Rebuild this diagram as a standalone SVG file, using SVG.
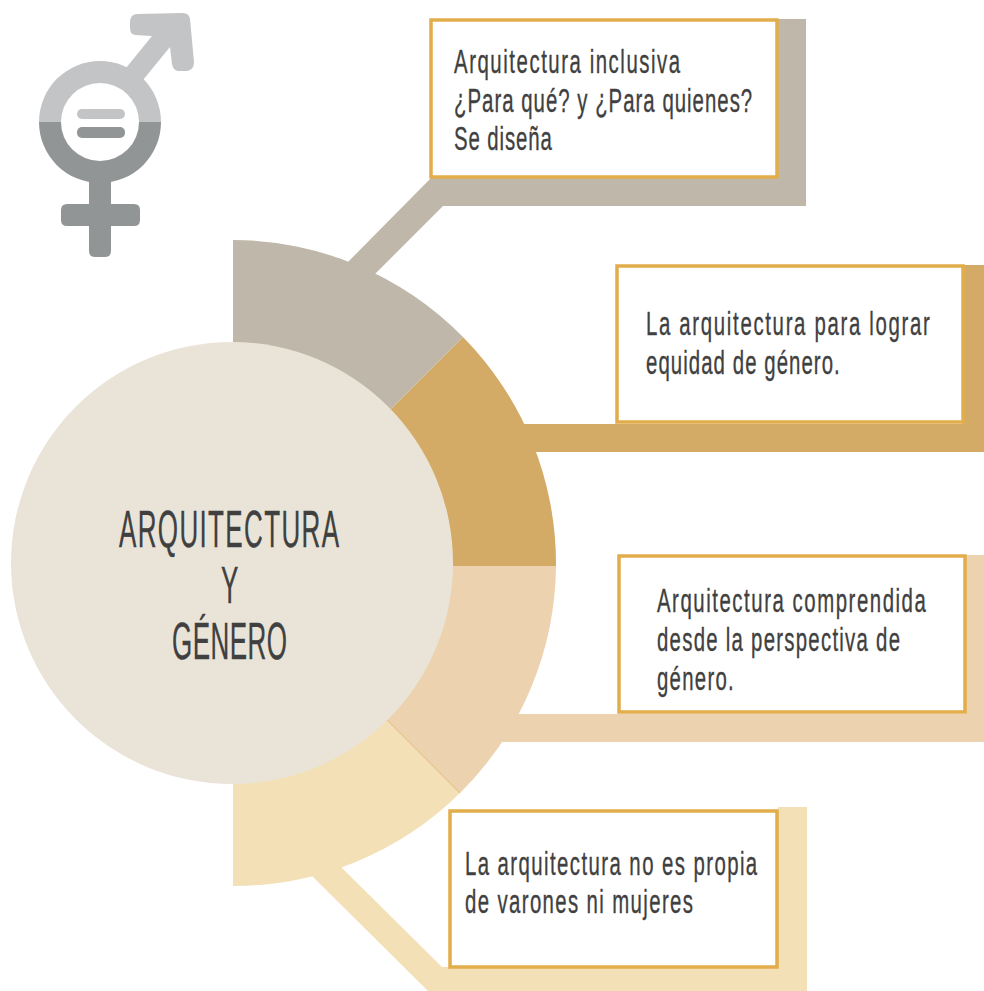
<svg xmlns="http://www.w3.org/2000/svg" width="984" height="991" viewBox="0 0 984 991">
<style>
.box{fill:#fff;stroke:#e2ad4a;stroke-width:3.5}
text{font-family:"Liberation Sans",Arial,sans-serif;fill:#404040;font-size:34px;stroke:#404040;stroke-width:.35}
.big{font-size:52px}
</style>
<rect width="984" height="991" fill="#fff"/>
<g id="icon">
<path d="M126 68 L152 36 L135 35 Q130 34 130 28 L130 21 Q131 14 137 14 L183 13 Q189 13 190 19 L194 62 Q194 70 187 71 L178 71 Q173 70 172 64 L170 47 L143 80Z" fill="#c2c4c6"/>
<path d="M39 122 A61 61 0 0 1 161 122 H139 A39 39 0 0 0 61 122Z" fill="#c2c4c6"/>
<path d="M39 122 A61 61 0 0 0 161 122 H139 A39 39 0 0 1 61 122Z" fill="#929596"/>
<path d="M89 180 H111 V204 H134 Q140 204 140 210 V220 Q140 226 134 226 H111 V251 Q111 257 105 257 H95 Q89 257 89 251 V226 H67 Q61 226 61 220 V210 Q61 204 67 204 H89Z" fill="#929596"/>
<rect x="77" y="109" width="48" height="10" rx="5" fill="#c2c4c6"/>
<rect x="77" y="127" width="48" height="11" rx="5" fill="#929596"/>
</g>
<g id="connectors">
<path d="M347 263 L431 178 V19 H806 V206 H443 L375 274Z" fill="#bfb7a9"/>
<path d="M520 424 H962 V265 H984 V452 H530Z" fill="#d4ab66"/>
<path d="M510 714 H966 V555 H984 V742 H490Z" fill="#edd2af"/>
<path d="M312 876 L340 866 L442 967 H778 V807 H807 V991 H428Z" fill="#f3e0b6"/>
</g>
<g id="ring">
<path d="M233 240 A323 323 0 0 1 463 337 L389 411 L233 400Z" fill="#bfb7a9"/>
<path d="M463 337 A323 323 0 0 1 556 566 L440 566 L390 410Z" fill="#d4ab66"/>
<path d="M556 566 A323 323 0 0 1 460 793 L386 720 L440 566Z" fill="#edd2af"/>
<path d="M460 793 A323 323 0 0 1 233 886 L233 760 L386 720Z" fill="#f3e0b6"/>
<path d="M387 720 L460 793" stroke="#e8c792" stroke-width="1.2"/>
</g>
<g id="center">
<circle cx="232" cy="563" r="221" fill="#e9e4d7"/>
<text class="big" transform="translate(119 547) scale(.5 1)" textLength="440">ARQUITECTURA</text>
<text class="big" transform="translate(221 603) scale(.5 1)">Y</text>
<text class="big" transform="translate(172 659) scale(.5 1)" textLength="230">GÉNERO</text>
</g>
<g id="node1">
<rect class="box" x="431" y="20" width="346" height="157"/>
<text transform="translate(454 73) scale(.6 1)" textLength="377">Arquitectura inclusiva</text>
<text transform="translate(454 112) scale(.6 1)" textLength="497">¿Para qué? y ¿Para quienes?</text>
<text transform="translate(454 150) scale(.6 1)" textLength="163">Se diseña</text>
</g>
<g id="node2">
<rect class="box" x="617" y="266" width="346" height="156"/>
<text transform="translate(646 335) scale(.6 1)" textLength="473">La arquitectura para lograr</text>
<text transform="translate(646 374) scale(.6 1)" textLength="323">equidad de género.</text>
</g>
<g id="node3">
<rect class="box" x="619" y="556" width="346" height="156"/>
<text transform="translate(657 612) scale(.6 1)" textLength="448">Arquitectura comprendida</text>
<text transform="translate(657 651) scale(.6 1)" textLength="405">desde la perspectiva de</text>
<text transform="translate(657 690) scale(.6 1)" textLength="128">género.</text>
</g>
<g id="node4">
<rect class="box" x="450" y="811" width="327" height="156"/>
<text transform="translate(465 875) scale(.6 1)" textLength="487">La arquitectura no es propia</text>
<text transform="translate(465 913) scale(.6 1)" textLength="380">de varones ni mujeres</text>
</g>
</svg>
